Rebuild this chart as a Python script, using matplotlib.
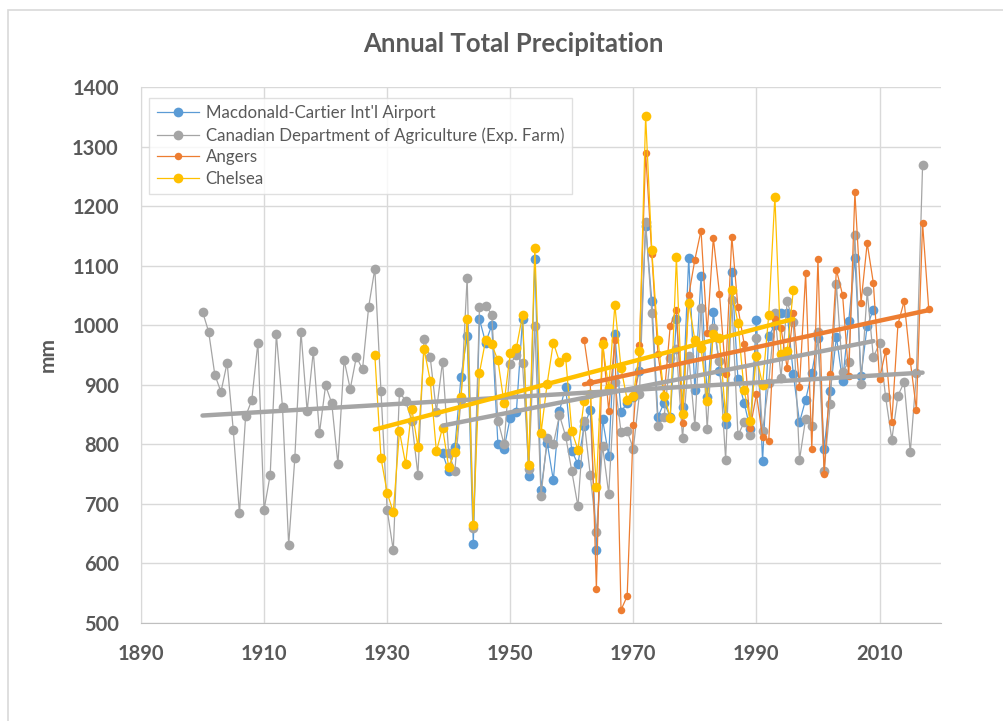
import numpy as np
import matplotlib.pyplot as plt
from matplotlib.patches import Rectangle

plt.rcParams['font.family'] = ['Lato', 'DejaVu Sans']

# annual totals (mm)
airport_years = np.arange(1939, 2010)
airport = [785,
           755, 795, 913, 982, 633, 1010, 971, 1000, 800, 793,
           845, 855, 1010, 747, 1112, 723, 803, 740, 856, 897,
           789, 767, 830, 858, 622, 842, 781, 986, 854, 870,
           880, 924, 1166, 1041, 846, 870, 846, 1011, 863, 1113,
           891, 1083, 880, 1022, 924, 835, 1089, 909, 870, 825,
           1009, 772, 982, 1000, 1021, 1020, 918, 837, 875, 920,
           978, 793, 889, 980, 906, 1007, 1113, 915, 999, 1026]

farm_years = np.arange(1900, 2018)
farm = [1023, 989, 917, 888, 937, 824, 684, 847, 874, 971,
        690, 749, 985, 862, 631, 777, 989, 856, 956, 819,
        899, 869, 767, 942, 893, 947, 926, 1031, 1095, 889,
        690, 622, 888, 873, 839, 749, 977, 946, 855, 939,
        785, 756, 875, 1080, 659, 1030, 1033, 1018, 840, 800,
        935, 950, 936, 758, 998, 713, 810, 800, 849, 814,
        755, 696, 840, 749, 653, 798, 717, 904, 821, 822,
        793, 885, 1174, 1021, 830, 846, 945, 960, 810, 949,
        831, 1029, 826, 996, 940, 774, 1042, 815, 837, 816,
        978, 822, 903, 1020, 912, 1040, 1005, 774, 843, 831,
        989, 755, 868, 1069, 921, 939, 1151, 901, 1057, 946,
        970, 879, 808, 882, 904, 787, 919, 1269]

angers_years = np.arange(1962, 2019)
angers = [976, 904, 557, 976, 856, 976, 522, 545,
          832, 966, 1290, 1120, 952, 880, 999, 1026, 836, 1050,
          1110, 1159, 987, 1147, 1053, 918, 1149, 1030, 969, 828,
          884, 813, 805, 1010, 995, 928, 1021, 897, 1087, 793,
          1111, 750, 918, 1093, 1051, 915, 1223, 1038, 1138, 1071,
          910, 957, 837, 1002, 1040, 940, 858, 1171, 1027]

chelsea_years = np.arange(1928, 1997)
chelsea = [950, 777,
           719, 686, 822, 767, 860, 796, 960, 907, 788, 828,
           762, 787, 880, 1010, 665, 920, 975, 968, 941, 869,
           953, 962, 1017, 766, 1130, 819, 902, 971, 939, 947,
           822, 791, 873, 885, 729, 968, 894, 1034, 928, 875,
           881, 956, 1352, 1126, 976, 882, 845, 1114, 851, 1038,
           975, 962, 873, 985, 978, 846, 1059, 1003, 891, 840,
           948, 900, 1017, 1216, 952, 956, 1060]

BLUE, GRAY, ORANGE, GOLD = '#5B9BD5', '#A5A5A5', '#ED7D31', '#FFC000'
TXT = '#595959'

fig = plt.figure(figsize=(10.04, 7.21), dpi=100)
fig.patches.append(Rectangle((8 / 1004, -0.1), 1.2, (721 - 10) / 721 + 0.1,
                             transform=fig.transFigure, fill=False,
                             edgecolor='#D9D9D9', lw=1.2))
ax = fig.add_axes([0.1404, 0.1359, 0.7969, 0.7434])

series = [
    ("Macdonald-Cartier Int'l Airport", airport_years, airport, BLUE, 7.0, GRAY),
    ("Canadian Department of Agriculture (Exp. Farm)", farm_years, farm, GRAY, 7.0, GRAY),
    ("Angers", angers_years, angers, ORANGE, 5.4, ORANGE),
    ("Chelsea", chelsea_years, chelsea, GOLD, 7.0, GOLD),
]

for i, (name, yrs, vals, col, ms, tcol) in enumerate(series):
    ax.plot(yrs, vals, '-o', color=col, lw=0.9, ms=ms, mew=0,
            label=name, zorder=3 + i)

# linear trendlines over each record's span
for i, (name, yrs, vals, col, ms, tcol) in enumerate(series):
    fit = np.polyfit(yrs, vals, 1)
    ends = np.array([yrs[0], yrs[-1]])
    ax.plot(ends, np.polyval(fit, ends), color=tcol, lw=3.2,
            solid_capstyle='round', zorder=8)

ax.set_xlim(1890, 2020)
ax.set_ylim(500, 1400)
ax.set_xticks(np.arange(1890, 2011, 20))
ax.set_yticks(np.arange(500, 1401, 100))
ax.grid(color='#D9D9D9', lw=1)
ax.set_axisbelow(True)
for s in ['top', 'right']:
    ax.spines[s].set_visible(False)
ax.spines['left'].set_color('#D9D9D9')
ax.spines['bottom'].set_color('#BFBFBF')
ax.tick_params(axis='x', length=0, pad=15, labelsize=14.5, labelcolor=TXT)
ax.tick_params(axis='y', length=0, pad=16, labelsize=14.5, labelcolor=TXT)
for lab in ax.get_xticklabels() + ax.get_yticklabels():
    lab.set_fontweight('bold')

fig.text(0.511, 1 - 43.5 / 721, 'Annual Total Precipitation', ha='center',
         va='center', fontsize=18.5, fontweight='bold', color=TXT)
fig.text(48 / 1004, 1 - 354 / 721, 'mm', rotation=90, ha='center',
         va='center', fontsize=15, fontweight='bold', color=TXT)

leg = ax.legend(loc='upper left', bbox_to_anchor=(0.01, 0.98), fontsize=12.2,
                frameon=True, fancybox=False, edgecolor='#D9D9D9',
                labelcolor=TXT, handlelength=2.5, handletextpad=0.4,
                borderpad=0.45, labelspacing=0.33, borderaxespad=0)
leg.get_frame().set_linewidth(1)
leg.set_zorder(10)

fig.savefig('out.png', dpi=100, facecolor='white')
